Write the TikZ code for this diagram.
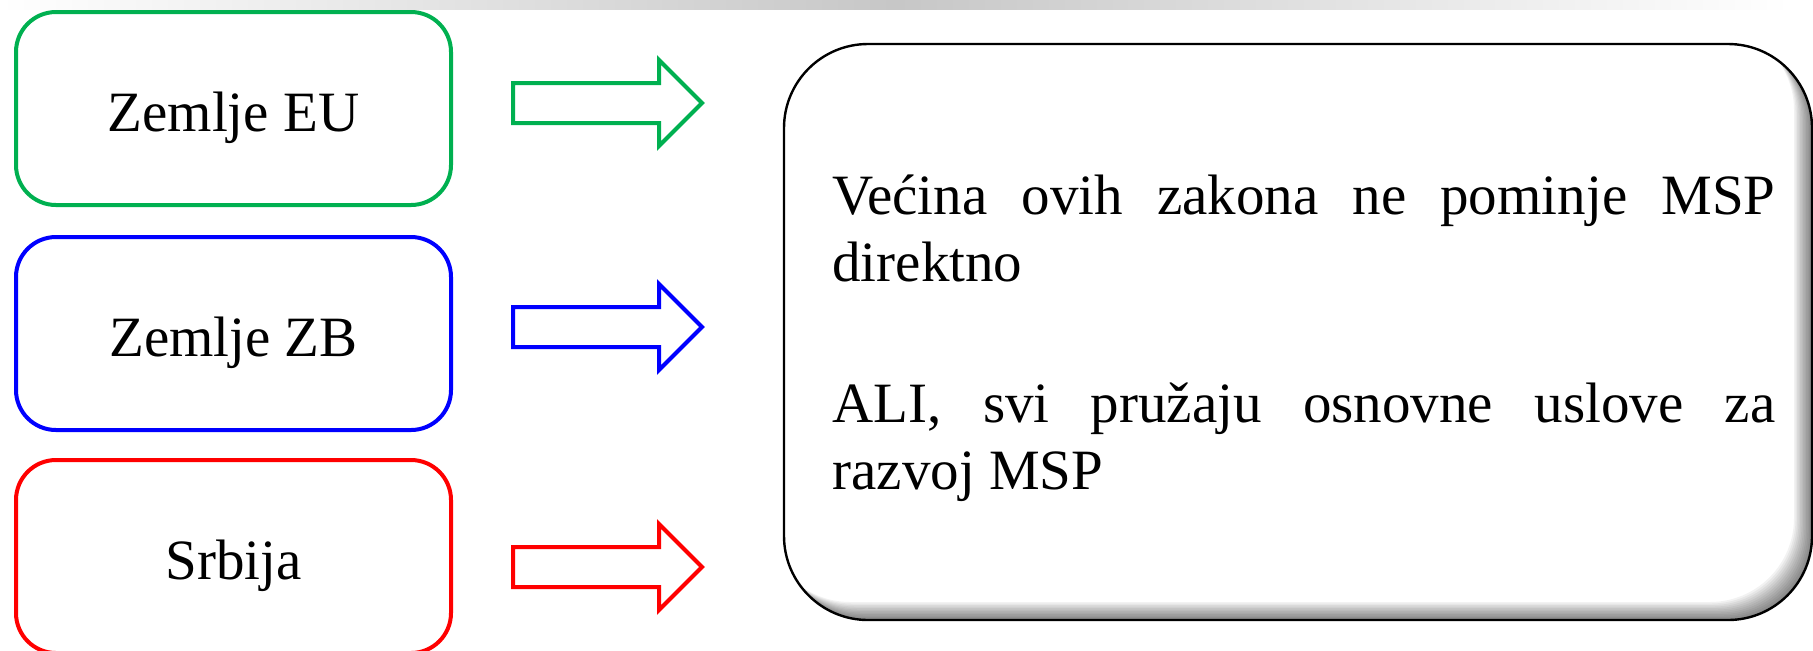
\documentclass[tikz,border=0pt]{standalone}
\usepackage{fontspec}
\setmainfont{Liberation Serif}
\definecolor{eugreen}{HTML}{00B050}
\definecolor{wbblue}{HTML}{0000FF}
\definecolor{rsred}{HTML}{FF0000}
\newcommand{\blockarrow}[2]{\draw[#1,line width=2pt,line join=miter] (513,#2-20) -- (659,#2-20) -- (659,#2-43) -- (702,#2) -- (659,#2+43) -- (659,#2+20) -- (513,#2+20) -- cycle;}

\begin{document}
\begin{tikzpicture}[x=0.5pt,y=-0.5pt,
	region/.style={draw,line width=2pt,rounded corners=20pt,minimum width=217.5pt,minimum height=96.5pt,text height=22.8pt,text depth=0pt,font=\fontsize{28.5}{33.5}\selectfont},
	lawtext/.style={text width=471.5pt,align=justify,inner sep=0pt,font=\fontsize{28.5}{33.5}\selectfont}]
	\useasboundingbox (0,0) rectangle (1813,650);
	\shade[left color=white,right color=white,middle color=black!22] (0,0) rectangle (1790,9);

	\node[region,draw=eugreen](eu) at (233.5,108.5) {Zemlje EU};
	\node[region,draw=wbblue](zb) at (233.5,333.5) {Zemlje ZB};
	\node[region,draw=rsred](rs) at (233.5,556.5) {Srbija};

	\blockarrow{eugreen}{103}
	\blockarrow{wbblue}{327}
	\blockarrow{rsred}{567}

	% inner shadow of the big box
	\begin{scope}
		\clip[rounded corners=42pt] (784,44) rectangle (1812,620);
		\foreach \k in {1,...,12}
			\fill[black,opacity=0.05,even odd rule,rounded corners=42pt] (784,44) rectangle (1812,620) ({784-1.5*\k},{44-1.5*\k}) rectangle ({1812-1.5*\k},{620-1.5*\k});
	\end{scope}
	\draw[line width=1.2pt,rounded corners=42pt] (784,44) rectangle (1812,620);

	\node[lawtext,anchor=base west](laws) at (832,214) {Većina ovih zakona ne pominje MSP\linebreak direktno\par\vspace{37pt}ALI, svi pružaju osnovne uslove za\linebreak razvoj MSP};
\end{tikzpicture}
\end{document}
